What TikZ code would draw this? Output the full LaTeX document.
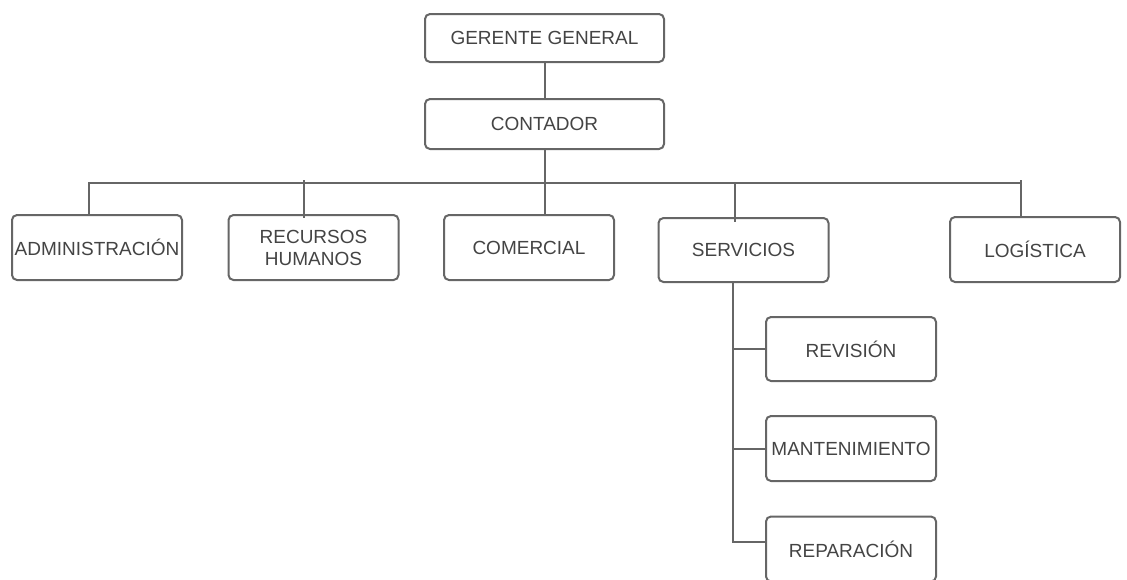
\documentclass[tikz,border=0pt]{standalone}
\usepackage{fontspec}
\setmainfont{Liberation Sans}
\usepackage{tikz}
\usetikzlibrary{positioning}
\definecolor{borde}{HTML}{666666}
\definecolor{letra}{HTML}{444444}
\tikzset{
  caja/.style={draw=borde, line width=2pt, rounded corners=5pt, fill=white, text=letra,
    minimum width=170pt, minimum height=65pt, inner sep=0pt, align=center,
    font=\fontsize{19}{22}\selectfont},
  linea/.style={draw=borde, line width=2pt},
  lineafina/.style={draw=borde, line width=1.2pt}}
\begin{document}
\begin{tikzpicture}[x=1pt, y=-1pt]
	\useasboundingbox (0,0) rectangle (1127,579);
	\node[caja, minimum width=239pt, minimum height=48pt] (ger) at (544.5,38) {GERENTE GENERAL};
	\node[caja, minimum width=239pt, minimum height=50pt] (cont) at (544.5,124) {CONTADOR};
\node[caja] (adm) at (97,247.5) {ADMINISTRACI\'ON};
\node[caja] (rrhh) at (313.5,247.5) {RECURSOS\\HUMANOS};
\node[caja] (com) at (529,247.5) {COMERCIAL};
\node[caja, minimum height=64pt] (serv) at (743.5,250) {SERVICIOS};
\node[caja] (log) at (1035,249.5) {LOG\'ISTICA};
\node[caja, minimum height=64pt] (rev) at (851,349) {REVISI\'ON};
\node[caja] (mant) at (851,448.5) {MANTENIMIENTO};
\node[caja] (rep) at (851,549) {REPARACI\'ON};
\coordinate (barraI) at (89,183);
\coordinate (barraD) at (1021,183);
\coordinate (tRH) at (304,180);
\coordinate (tSV) at (735,183);
\coordinate (bajS) at (733,542);
\draw[linea] (ger) -- (cont);
\draw[linea] (cont.south) -- (cont.south |- com.north);
\draw[linea] (adm.north -| barraI) -- (barraI) -- (barraD) -- ([yshift=3pt]barraD);
\draw[linea] (barraD) -- (log.north -| barraD);
\draw[lineafina] (tRH) -- ([yshift=-4pt]tRH |- rrhh.north);
\draw[linea] (tSV) -- ([yshift=-5pt]tSV |- serv.north);
\draw[linea] (serv.south -| bajS) -- (bajS) -- (bajS -| rep.west);
\draw[linea] (bajS |- rev.west) -- (rev.west);
\draw[linea] (bajS |- mant.west) -- (mant.west);
\end{tikzpicture}
\end{document}
